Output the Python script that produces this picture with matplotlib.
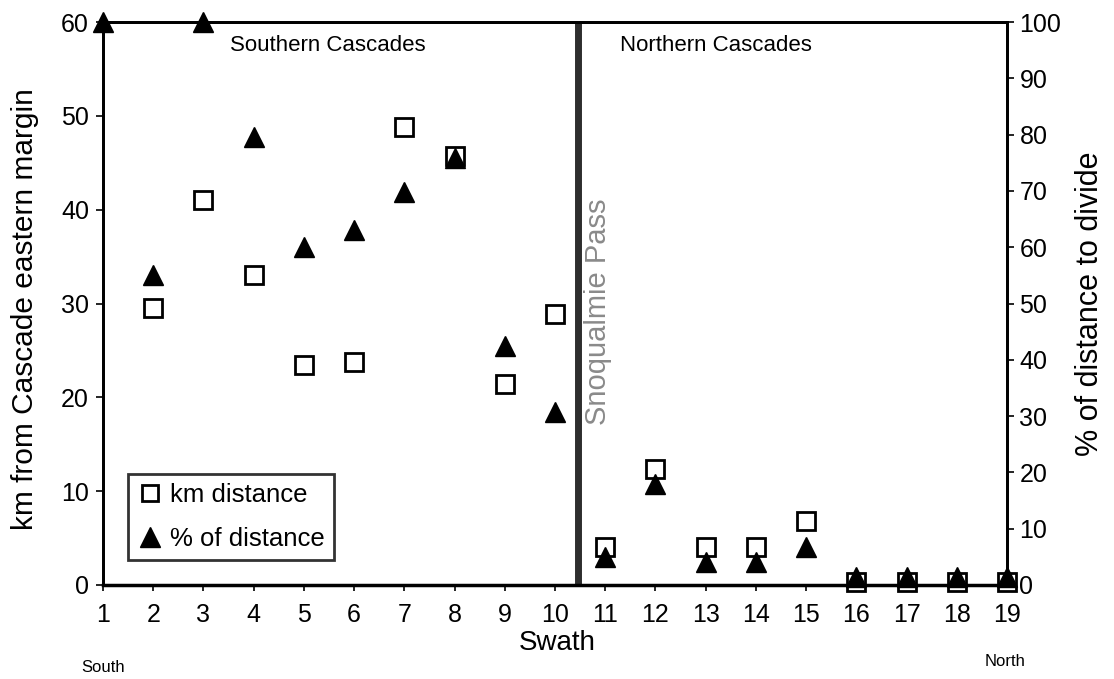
import numpy as np
import matplotlib
matplotlib.use("Agg")
import matplotlib.pyplot as plt
from matplotlib.lines import Line2D

plt.rcParams['font.family'] = ['Liberation Sans', 'DejaVu Sans']

# Data
km_swath = [2, 3, 4, 5, 6, 7, 8, 9, 10, 11, 12, 13, 14, 15, 16, 17, 18, 19]
km_dist = [29.5, 41.0, 33.0, 23.4, 23.8, 48.8, 45.7, 21.4, 28.9,
           4.1, 12.4, 4.1, 4.1, 6.8, 0.3, 0.3, 0.3, 0.3]
pct_swath = list(range(1, 20))
pct_dist = [100, 55, 100, 79.5, 60, 63, 69.8, 75.8, 42.5, 30.8,
            5.0, 18.0, 4.0, 4.0, 6.8, 1.5, 1.5, 1.5, 1.5]
x_ticks = list(range(1, 20))
pass_pos = 10.45

fig = plt.figure(figsize=(11.14, 6.79), dpi=100)
ax = fig.add_axes([103 / 1114, 1 - 585 / 679, 904 / 1114, 563 / 679])
ax2 = ax.twinx()

# km distance (left axis)
ax.plot(km_swath, km_dist, linestyle='none', marker='s', markersize=13,
        markerfacecolor='white', markeredgecolor='black', markeredgewidth=2,
        clip_on=False, zorder=3)
# percent of distance (right axis)
ax2.plot(pct_swath, pct_dist, linestyle='none', marker='^', markersize=15,
         color='black', clip_on=False, zorder=4)

ax.set_xlim(1, 19)
ax.set_ylim(0, 60)
ax2.set_ylim(0, 100)
ax.set_xticks(x_ticks)
ax.set_yticks(np.arange(0, 61, 10))
ax2.set_yticks(np.arange(0, 101, 10))

for a in (ax, ax2):
    for s in a.spines.values():
        s.set_linewidth(2)
        s.set_color('black')
ax.spines['bottom'].set_linewidth(2.5)

ax.tick_params(axis='x', direction='out', length=4, width=1.2, labelsize=18, pad=9)
ax.tick_params(axis='y', direction='out', length=5, width=1.2, labelsize=18, pad=5)
ax2.tick_params(axis='y', direction='out', length=5, width=1.2, labelsize=18, pad=4)

# Snoqualmie Pass divider
ax.axvline(pass_pos, color='#2e2e2e', linewidth=5, zorder=2)
ax.text(pass_pos + 0.4, 29.1, 'Snoqualmie Pass', rotation=90, color='#8a8a8a',
        fontsize=21, ha='center', va='center', fontweight='light',
        family=['Liberation Sans Narrow', 'Liberation Sans', 'DejaVu Sans'])

ax.text(5.48, 57.5, 'Southern Cascades', fontsize=16, ha='center', va='center')
ax.text(13.2, 57.5, 'Northern Cascades', fontsize=16, ha='center', va='center')

ax.set_ylabel('km from Cascade eastern margin', fontsize=21.5, va='center')
ax.yaxis.set_label_coords(-0.086, 0.49)
ax2.set_ylabel('% of distance to divide', fontsize=22, va='center')
ax2.yaxis.set_label_coords(1.092, 0.5)
ax.set_xlabel('Swath', fontsize=20, va='center')
ax.xaxis.set_label_coords(0.502, -(643 - 585) / 563)

fig.text(103 / 1114, 1 - 668 / 679, 'South', fontsize=12, ha='center', va='center')
fig.text(1005 / 1114, 1 - 662 / 679, 'North', fontsize=12, ha='center', va='center')

handles = [
    Line2D([], [], linestyle='none', marker='s', markersize=12,
           markerfacecolor='white', markeredgecolor='black', markeredgewidth=2),
    Line2D([], [], linestyle='none', marker='^', markersize=14, color='black'),
]
leg = ax.legend(handles, ['km distance', '% of distance'], loc='lower left',
                bbox_to_anchor=(0.0277, 0.045), fontsize=18.5, frameon=True,
                fancybox=False, handletextpad=0.3, handlelength=1.0,
                borderpad=0.35, labelspacing=0.75, borderaxespad=0)
leg.get_frame().set_edgecolor('black')
leg.get_frame().set_linewidth(2)
leg.set_zorder(5)

fig.savefig('out.png', dpi=100)
